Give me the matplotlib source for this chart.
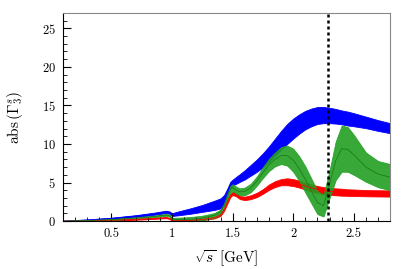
import matplotlib
matplotlib.use("Agg")
import matplotlib.pyplot as plt
import numpy as np
from matplotlib.ticker import MultipleLocator, FormatStrFormatter

plt.rcParams['font.family'] = 'serif'
plt.rcParams['font.serif'] = ['cmr10']
plt.rcParams['mathtext.fontset'] = 'cm'
plt.rcParams['axes.formatter.use_mathtext'] = True

# sqrt(s) grid [GeV]
x = [0.1, 0.3, 0.5, 0.7, 0.85, 0.95, 0.98, 1.0, 1.05, 1.15, 1.25, 1.35, 1.40,
     1.43, 1.46, 1.48, 1.5, 1.53, 1.56, 1.6, 1.65, 1.7, 1.75, 1.8, 1.85, 1.9,
     1.95, 2.0, 2.05, 2.1, 2.15, 2.2, 2.25, 2.3, 2.35, 2.4, 2.45, 2.5, 2.6,
     2.7, 2.8]

# blue band: centre and half width
blue_c = [0.0, 0.15, 0.35, 0.65, 0.95, 1.2, 1.1, 0.85, 1.0, 1.3, 1.65, 2.05, 2.3,
          2.8, 3.9, 4.7, 5.0, 5.3, 5.6, 6.0, 6.6, 7.2, 7.9, 8.7, 9.6, 10.5,
          11.3, 12.0, 12.6, 13.1, 13.45, 13.7, 13.75, 13.7, 13.6, 13.45, 13.3,
          13.15, 12.8, 12.4, 12.05]
blue_w = [0.03, 0.06, 0.09, 0.12, 0.14, 0.15, 0.15, 0.18, 0.25, 0.35, 0.45, 0.6, 0.65,
          0.6, 0.45, 0.38, 0.38, 0.45, 0.5, 0.6, 0.7, 0.8, 0.9, 1.0, 1.1, 1.2,
          1.3, 1.3, 1.25, 1.2, 1.15, 1.1, 1.05, 1.0, 0.95, 0.9, 0.9, 0.85, 0.75,
          0.7, 0.65]

# green band
green_c = [0.0, 0.08, 0.2, 0.4, 0.6, 0.8, 0.7, 0.25, 0.2, 0.25, 0.4, 0.75, 1.2,
           2.0, 3.3, 4.1, 4.35, 4.0, 3.8, 3.85, 4.3, 5.2, 6.3, 7.3, 8.0, 8.5,
           8.5, 7.9, 6.8, 5.4, 3.9, 2.4, 2.0, 4.8, 7.8, 9.4, 9.3, 8.6, 7.0, 6.1,
           5.7]
green_w = [0.03, 0.05, 0.06, 0.08, 0.1, 0.12, 0.12, 0.18, 0.25, 0.28, 0.3, 0.3, 0.3,
           0.32, 0.38, 0.42, 0.45, 0.45, 0.45, 0.5, 0.55, 0.6, 0.7, 0.8, 0.9, 1.1,
           1.3, 1.5, 1.6, 1.7, 1.6, 1.5, 1.4, 1.8, 2.5, 3.0, 2.9, 2.6, 1.9, 1.7,
           1.7]

# red band
red_c = [0.0, 0.05, 0.12, 0.22, 0.35, 0.45, 0.35, 0.05, 0.05, 0.1, 0.2, 0.45, 0.8,
         1.5, 2.6, 3.3, 3.6, 3.4, 3.05, 2.95, 3.1, 3.4, 3.85, 4.4, 4.8, 5.05,
         5.1, 5.0, 4.8, 4.55, 4.3, 4.1, 3.95, 3.85, 3.8, 3.75, 3.7, 3.68, 3.62,
         3.6, 3.58]
red_w = [0.02, 0.03, 0.04, 0.05, 0.06, 0.07, 0.07, 0.05, 0.05, 0.06, 0.08, 0.1, 0.12,
         0.15, 0.2, 0.2, 0.2, 0.2, 0.2, 0.22, 0.25, 0.28, 0.3, 0.35, 0.38, 0.4,
         0.45, 0.45, 0.45, 0.45, 0.45, 0.45, 0.45, 0.45, 0.45, 0.45, 0.42, 0.42,
         0.4, 0.4, 0.4]

threshold = 2.286

x = np.array(x)
fig = plt.figure(figsize=(4.12, 2.69), dpi=100)
ax = fig.add_axes([0.153, 0.178, 0.794, 0.774])

bands = [(blue_c, blue_w, 'blue', 'blue', 1.0),
         (red_c, red_w, 'red', 'red', 1.0),
         (green_c, green_w, '#22a022', '#1a7d1a', 0.9)]
for c, w, col, lcol, a in bands:
    c = np.array(c)
    w = np.array(w)
    ax.fill_between(x, c - w, c + w, color=col, alpha=a, lw=0.6)
    ax.plot(x, c, color=lcol, lw=0.6)

ax.axvline(threshold, color='black', ls=(0, (1.2, 1.2)), lw=1.8)

ax.set_xlim(0.1, 2.8)
ax.set_ylim(0, 27)
ax.xaxis.set_major_locator(MultipleLocator(0.5))
ax.xaxis.set_minor_locator(MultipleLocator(0.1))
ax.yaxis.set_major_locator(MultipleLocator(5))
ax.yaxis.set_minor_locator(MultipleLocator(1))
ax.xaxis.set_major_formatter(FormatStrFormatter('%g'))
ax.tick_params(which='both', direction='in', top=False, right=False, labelsize=9)
ax.tick_params(which='major', length=6, width=0.8, pad=5)
ax.tick_params(which='minor', length=3, width=0.6)
ax.spines['top'].set_color('#888888')
ax.spines['right'].set_color('#888888')

ax.set_xlabel(r'$\sqrt{s}\ $[GeV]', fontsize=11, labelpad=6)
ax.set_ylabel(r'abs$\,(\Gamma_3^s)$', fontsize=11, labelpad=12)

fig.savefig('out.png', dpi=100)
